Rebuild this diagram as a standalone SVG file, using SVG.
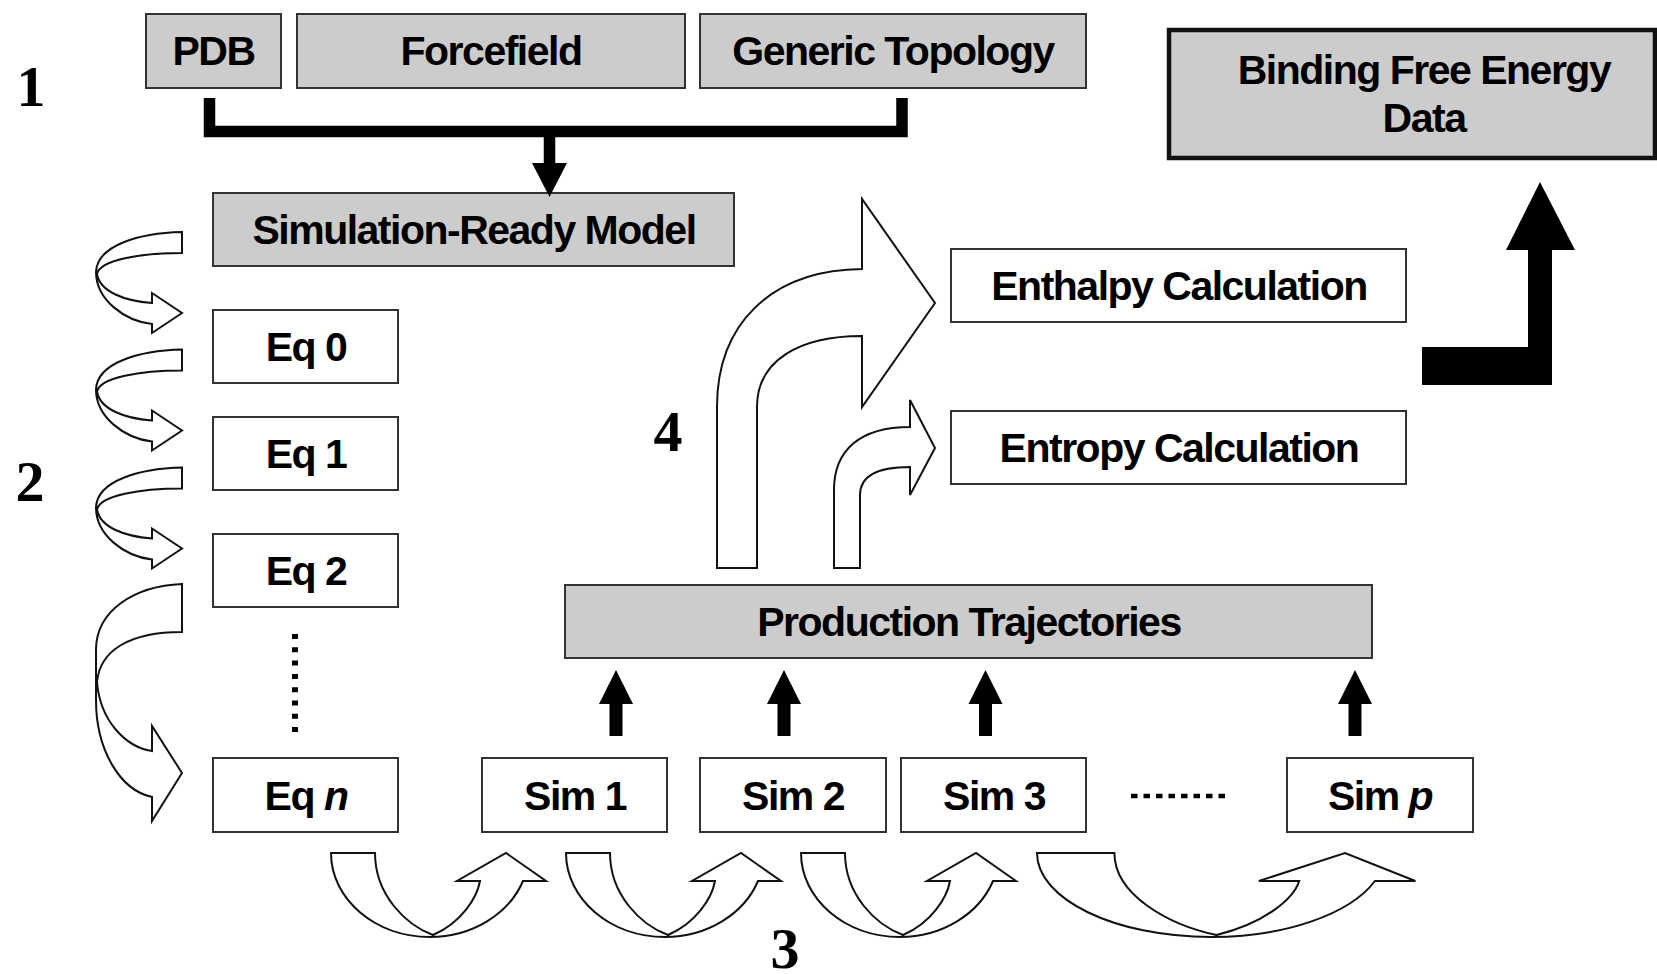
<svg xmlns="http://www.w3.org/2000/svg" width="1657" height="974" viewBox="0 0 1657 974">
  <style>
    .box { fill: #ffffff; stroke: #333333; stroke-width: 2; }
    .grey { fill: #cccccc; }
    .lbl { font-family: "Liberation Sans", Arial, sans-serif; font-weight: bold; font-size: 41px; letter-spacing: -1.5px; fill: #000000; text-anchor: middle; }
    .num { font-family: "Liberation Serif", "Times New Roman", serif; font-weight: bold; font-size: 58px; fill: #000000; text-anchor: middle; }
    .outline { fill: #ffffff; stroke: #111111; stroke-width: 2; stroke-linejoin: miter; }
    .solid { fill: #000000; stroke: none; }
    .dots { fill: none; stroke: #000000; }
  </style>
  <defs>
    <!-- band arrow curving down then up (tail top-left, head top-right) -->
    <path id="uArrow" d="M0,0 C0,46 44,84 99,84 C141,84 178,61 192,28 L215,28 L175,0 L126,28 L149,28 C146,45 130,70 102,82 C75,72 44,42 44,0 Z"/>
    <!-- band arrow curving left then back right (tail top-right, head bottom-right) -->
    <path id="cArrow" d="M182,232 C140,233 97,245 96,272 C96,300 125,321 152,324 L152,333 L182,313 L152,293 L152,303 C125,301 100,292 97,274 C100,260 140,253 182,253 Z"/>
    <!-- upward black arrow, tip at origin -->
    <polygon id="upArrow" points="0,0 17,34 6.5,34 6.5,66 -6.5,66 -6.5,34 -17,34"/>
  </defs>

  <rect width="1657" height="974" fill="#ffffff"/>

  <!-- step numbers -->
  <text class="num" x="31" y="106">1</text>
  <text class="num" x="30" y="501">2</text>
  <text class="num" x="785" y="968">3</text>
  <text class="num" x="668" y="451">4</text>

  <!-- input nodes -->
  <g id="node-pdb">
    <rect class="box grey" x="146" y="14" width="135" height="74"/>
    <text class="lbl" x="213.5" y="65">PDB</text>
  </g>
  <g id="node-forcefield">
    <rect class="box grey" x="297" y="14" width="388" height="74"/>
    <text class="lbl" x="491" y="65">Forcefield</text>
  </g>
  <g id="node-topology">
    <rect class="box grey" x="700" y="14" width="386" height="74"/>
    <text class="lbl" x="893" y="65">Generic Topology</text>
  </g>
  <g id="node-binding">
    <rect x="1169" y="30" width="486" height="128" fill="#cccccc" stroke="#111111" stroke-width="4.5"/>
    <text class="lbl" x="1424" y="84">Binding Free Energy</text>
    <text class="lbl" x="1424" y="132">Data</text>
  </g>
  <g id="node-model">
    <rect class="box grey" x="213" y="193" width="521" height="73"/>
    <text class="lbl" x="474" y="244">Simulation-Ready Model</text>
  </g>

  <!-- equilibration stages -->
  <g id="node-eq0">
    <rect class="box" x="213" y="310" width="185" height="73"/>
    <text class="lbl" x="306" y="361">Eq 0</text>
  </g>
  <g id="node-eq1">
    <rect class="box" x="213" y="417" width="185" height="73"/>
    <text class="lbl" x="306" y="468">Eq 1</text>
  </g>
  <g id="node-eq2">
    <rect class="box" x="213" y="534" width="185" height="73"/>
    <text class="lbl" x="306" y="585">Eq 2</text>
  </g>
  <g id="node-eqn">
    <rect class="box" x="213" y="758" width="185" height="74"/>
    <text class="lbl" x="306" y="810">Eq <tspan font-style="italic">n</tspan></text>
  </g>

  <!-- analysis nodes -->
  <g id="node-enthalpy">
    <rect class="box" x="951" y="249" width="455" height="73"/>
    <text class="lbl" x="1179" y="300">Enthalpy Calculation</text>
  </g>
  <g id="node-entropy">
    <rect class="box" x="951" y="411" width="455" height="73"/>
    <text class="lbl" x="1179" y="462">Entropy Calculation</text>
  </g>
  <g id="node-production">
    <rect class="box grey" x="565" y="585" width="807" height="73"/>
    <text class="lbl" x="969" y="636">Production Trajectories</text>
  </g>

  <!-- production simulations -->
  <g id="node-sim1">
    <rect class="box" x="482" y="758" width="185" height="74"/>
    <text class="lbl" x="575" y="810">Sim 1</text>
  </g>
  <g id="node-sim2">
    <rect class="box" x="700" y="758" width="186" height="74"/>
    <text class="lbl" x="793" y="810">Sim 2</text>
  </g>
  <g id="node-sim3">
    <rect class="box" x="901" y="758" width="185" height="74"/>
    <text class="lbl" x="994" y="810">Sim 3</text>
  </g>
  <g id="node-simp">
    <rect class="box" x="1287" y="758" width="186" height="74"/>
    <text class="lbl" x="1380" y="810">Sim <tspan font-style="italic">p</tspan></text>
  </g>

  <!-- connectors -->
  <g id="connectors">
    <!-- inputs merge into the model -->
    <path d="M209.5,98 V131.5 H902 V98" fill="none" stroke="#000000" stroke-width="11.5" stroke-linejoin="miter"/>
    <rect class="solid" x="543.75" y="126" width="11.5" height="38"/>
    <polygon class="solid" points="532,163 567,163 549.5,197"/>

    <!-- equilibration chain -->
    <use href="#cArrow" class="outline"/>
    <use href="#cArrow" class="outline" transform="translate(0,117.5)"/>
    <use href="#cArrow" class="outline" transform="translate(0,235.5)"/>
    <path class="outline" d="M182,584 C135,586 96,610 96,650 L96,700 C96,750 120,790 152,797 L152,821 L182,773 L152,726 L152,751 C125,747 100,720 97,682 C100,650 130,632 182,632 Z"/>
    <line class="dots" x1="295" y1="634" x2="295" y2="732" stroke-width="6" stroke-dasharray="5 8.3"/>

    <!-- simulation chain -->
    <use href="#uArrow" class="outline" transform="translate(331,853)"/>
    <use href="#uArrow" class="outline" transform="translate(566,853)"/>
    <use href="#uArrow" class="outline" transform="translate(801,853)"/>
    <path class="outline" d="M1037,853 C1037,899 1114.4,937 1211.2,937 C1285.2,937 1350.3,914 1374.9,881 L1415.4,881 L1345,853 L1258.8,881 L1299.2,881 C1294,898 1265.8,923 1216.5,935 C1169,925 1114.4,895 1114.4,853 Z"/>
    <line class="dots" x1="1131" y1="796" x2="1231" y2="796" stroke-width="4.5" stroke-dasharray="6.5 6"/>

    <!-- simulations feed the trajectories -->
    <use href="#upArrow" class="solid" transform="translate(616,670)"/>
    <use href="#upArrow" class="solid" transform="translate(784,670)"/>
    <use href="#upArrow" class="solid" transform="translate(985.5,670)"/>
    <use href="#upArrow" class="solid" transform="translate(1355,670)"/>

    <!-- trajectories to enthalpy and entropy -->
    <path class="outline" d="M717,568 L717,407 C717,325 770,270 862,269 L862,199 L935,303 L862,407 L862,336 C800,336 757,360 757,407 L757,568 Z"/>
    <path class="outline" d="M834,568 L834,490 C834,450 860,427 910,427 L910,400 L935,448 L910,495 L910,467 C880,467 860,475 860,495 L860,568 Z"/>

    <!-- results to binding free energy -->
    <polygon class="solid" points="1422,347 1528,347 1528,250 1506,250 1540,182 1575,250 1552,250 1552,385 1422,385"/>
  </g>
</svg>
